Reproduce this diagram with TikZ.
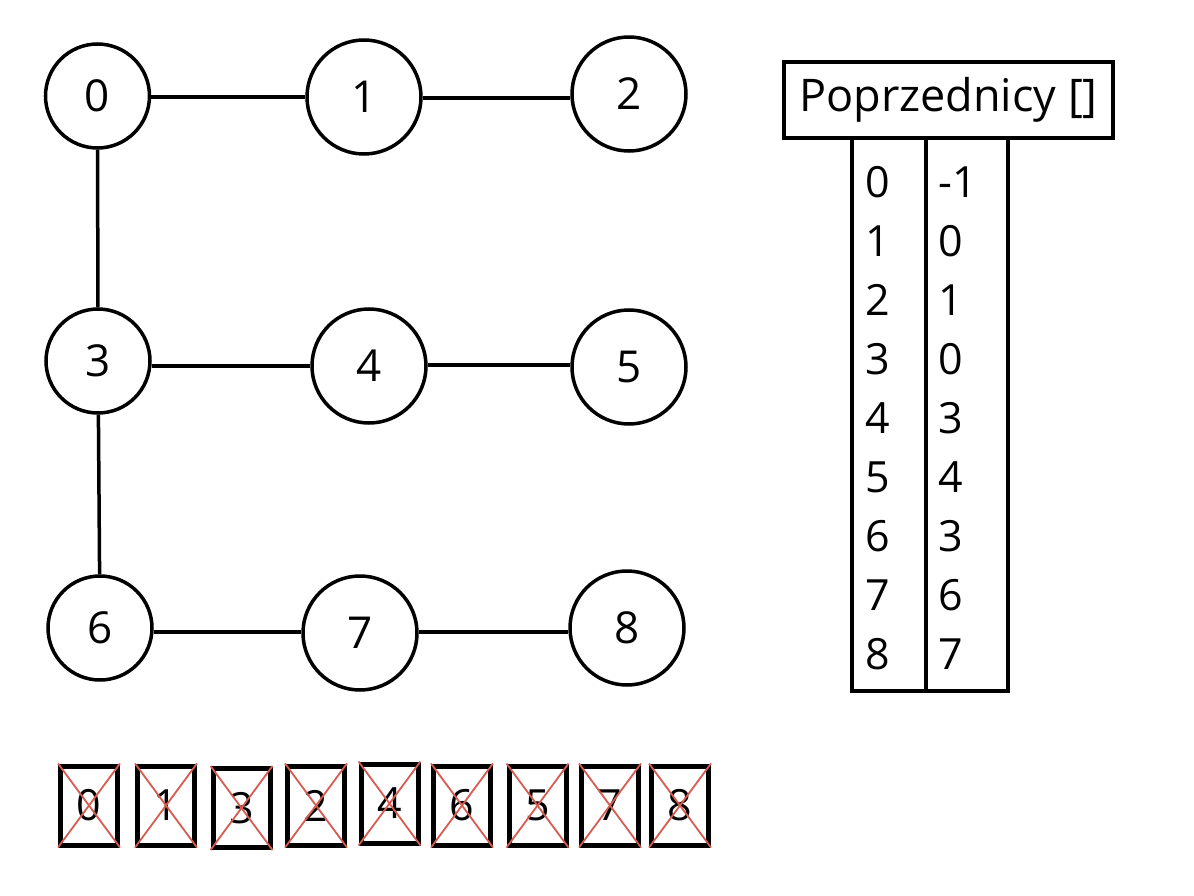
\documentclass[tikz,border=0pt]{standalone}
\usepackage{fontspec}
\setmainfont{Open Sans}
\definecolor{crossred}{RGB}{214,92,80}
\begin{document}
\begin{tikzpicture}[x=1pt,y=-1pt,
  vsmall/.style={draw,circle,line width=3.5pt,inner sep=0pt,minimum size=104pt,font=\fontsize{44}{52}\selectfont},
  vbig/.style={draw,circle,line width=3.5pt,inner sep=0pt,minimum size=114pt,font=\fontsize{44}{52}\selectfont},
  edge/.style={line width=3.5pt},
  header/.style={draw,line width=4.5pt,inner sep=0pt,minimum width=329pt,minimum height=76pt,font=\fontsize{45}{54}\selectfont},
  col/.style={draw,line width=4.5pt,inner sep=0pt},
  cell/.style={anchor=west,inner sep=0pt,font=\fontsize{43}{50}\selectfont},
  qbox/.style={draw,line width=5pt,inner sep=0pt,minimum width=57pt,minimum height=79pt,font=\fontsize{43}{50}\selectfont},
  cross/.style={draw=crossred,line width=1.8pt}]
\useasboundingbox (0,0) rectangle (1194,896);
% graph
\node[vsmall] (n0) at (97.5,96) {0};
\node[vbig] (n1) at (364,97) {1};
\node[vbig] (n2) at (629,94) {2};
\node[vsmall] (n3) at (98,361) {3};
\node[vbig] (n4) at (369,366) {4};
\node[vbig] (n5) at (629,367) {5};
\node[vsmall] (n6) at (100,628) {6};
\node[vbig] (n7) at (360,633) {7};
\node[vbig] (n8) at (627,628) {8};
\coordinate (e01) at (0,97);
\coordinate (e12) at (0,98);
\coordinate (e34) at (0,366);
\coordinate (e45) at (0,365);
\coordinate (e67) at (0,632);
\coordinate (e78) at (0,632);
\draw[edge] (n0.east |- e01) -- (n1.west |- e01);
\draw[edge] (n1.east |- e12) -- (n2.west |- e12);
\draw[edge] (n0) -- (n3);
\draw[edge] (n3.east |- e34) -- (n4.west |- e34);
\draw[edge] (n4.east |- e45) -- (n5.west |- e45);
\draw[edge] (n3) -- (n6);
\draw[edge] (n6.east |- e67) -- (n7.west |- e67);
\draw[edge] (n7.east |- e78) -- (n8.west |- e78);
% table
\node[header] (hdr) at (948.5,100) {Poprzednicy []};
\node[col,minimum width=74pt,minimum height=553pt] (colL) at (889,414.5) {};
\node[col,minimum width=82pt,minimum height=553pt] (colR) at (967,414.5) {};
\foreach \i/\p [count=\k from 0] in {0/-1,1/0,2/1,3/0,4/3,5/4,6/3,7/6,8/7} {
  \node[cell] (l\i) at (865,182+59*\k) {\i};
  \node[cell] (r\i) at (938,182+59*\k) {\p};
}
% visited boxes
\foreach \v/\x/\y in {0/89/805.5,1/166/805.5,3/241.5/808,2/316/805.5,4/389.5/803.5,6/462/805.5,5/537.5/805.5,7/610/805.5,8/680/805.5} {
  \node[qbox] (b\v) at (\x,\y) {\v};
  \draw[cross] (b\v.north west) -- (b\v.south east);
  \draw[cross] (b\v.north east) -- (b\v.south west);
}
\end{tikzpicture}
\end{document}
